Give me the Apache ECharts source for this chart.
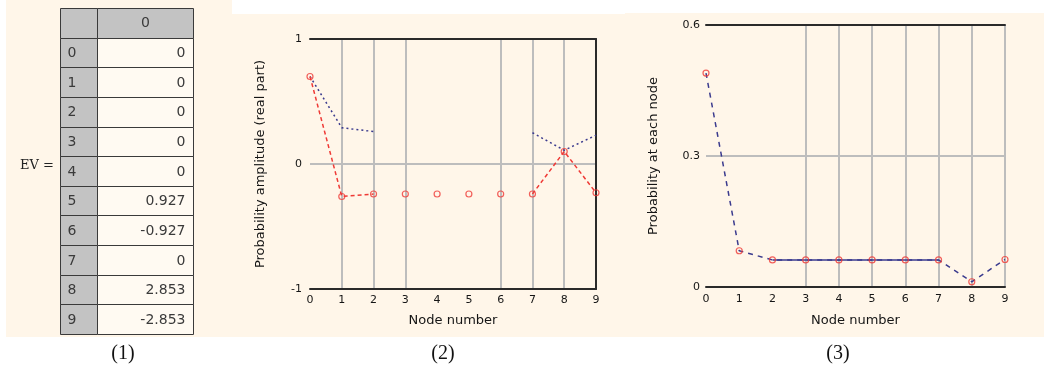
<!DOCTYPE html>
<html>
<head>
<meta charset="utf-8">
<script src="https://cdn.jsdelivr.net/npm/echarts@6/dist/echarts.min.js"></script>
<style>
  html, body { margin: 0; padding: 0; background: #ffffff; }
  #chart { width: 1044px; height: 375px; }
</style>
</head>
<body>
<div id="chart"></div>
<script>
// Eigenvalue table (1)
const evHeader = '0';
const evRows = ['0', '1', '2', '3', '4', '5', '6', '7', '8', '9'];
const evValues = [0, 0, 0, 0, 0, 0.927, -0.927, 0, 2.853, -2.853];

// Node axis shared by plots (2) and (3)
const nodes = ['0', '1', '2', '3', '4', '5', '6', '7', '8', '9'];

// (2) amplitudes per node; null = not drawn
const ampBlue = [0.70, 0.29, 0.26, null, null, null, null, 0.25, 0.11, 0.23];
const ampRed = [0.70, -0.26, -0.24, -0.24, -0.24, -0.24, -0.24, -0.24, 0.10, -0.23];
// nodes where the red curve is joined by a line
const ampRedJoined = [0, 1, 2, 7, 8, 9];

// (3) probability per node
const prob = [0.49, 0.083, 0.062, 0.062, 0.062, 0.062, 0.062, 0.062, 0.012, 0.063];
// nodes joined by the solid segment
const probSolid = [2, 3, 4, 5, 6, 7];

const yAmpTicks = [-1, 0, 1];
const yProbTicks = [0, 0.3, 0.6];

const cream = '#fff6e9';
const navy = '#3b3b8e';
const red = '#ef3a36';
const grey = '#bdbdbd';
const dark = '#2a2a2a';
const tickFont = { fontFamily: 'DejaVu Sans', fontSize: 11, color: '#151515' };
const nameFont = { fontFamily: 'DejaVu Sans', fontSize: 13, color: '#151515' };

const chart = echarts.init(document.getElementById('chart'), null, { renderer: 'canvas' });

const tableRowCats = ['h'].concat(evRows);

function cellRect(pt, size) {
  return {
    x: Math.round(pt[0] - size[0] / 2) + 0.5,
    y: Math.round(pt[1] - size[1] / 2) + 0.5,
    width: Math.round(size[0]),
    height: Math.round(size[1])
  };
}

// one table column drawn as custom cells on a category row axis
function tableColumn(gridIndex, kind) {
  return {
    type: 'custom',
    xAxisIndex: gridIndex,
    yAxisIndex: gridIndex,
    silent: true,
    data: tableRowCats.map((r, i) => [0, i]),
    renderItem: function (params, api) {
      const row = api.value(1);
      const pt = api.coord([0, row]);
      const size = api.size([1, 1]);
      const r = cellRect(pt, size);
      const isHeader = row === 0;
      const fill = (kind === 'idx' || isHeader) ? '#c3c3c3' : '#fffaf2';
      const label = isHeader
        ? (kind === 'idx' ? '' : evHeader)
        : (kind === 'idx' ? evRows[row - 1] : String(evValues[row - 1]));
      let tx, align;
      if (kind === 'idx') { tx = r.x + 7; align = 'left'; }
      else if (isHeader) { tx = r.x + r.width / 2; align = 'center'; }
      else { tx = r.x + r.width - 8; align = 'right'; }
      return {
        type: 'group',
        children: [
          { type: 'rect', shape: r, style: { fill: fill, stroke: '#3a3a3a', lineWidth: 1 } },
          { type: 'text', style: { text: label, x: tx, y: pt[1] + 1, align: align, verticalAlign: 'middle',
            fontFamily: 'DejaVu Sans', fontSize: 14, fill: '#3a3a3a' } }
        ]
      };
    }
  };
}

function hiddenCat(gridIndex) {
  return { type: 'category', gridIndex: gridIndex, data: ['c'], show: false };
}
function hiddenRows(gridIndex) {
  return { type: 'category', gridIndex: gridIndex, data: tableRowCats, inverse: true, show: false };
}

function nodeAxisBottom(gridIndex, splitIdx, nameGap, labelMargin) {
  return {
    type: 'category', gridIndex: gridIndex, data: nodes, boundaryGap: false, position: 'bottom',
    axisLine: { show: true, onZero: false, lineStyle: { color: dark, width: 2 } },
    axisTick: { show: false },
    axisLabel: Object.assign({ margin: labelMargin, interval: 0 }, tickFont),
    splitLine: { show: true, interval: (i) => splitIdx.indexOf(i) >= 0, lineStyle: { color: grey, width: 2 } },
    name: 'Node number', nameLocation: 'middle', nameGap: nameGap,
    nameTextStyle: nameFont
  };
}
function nodeAxisTop(gridIndex) {
  return {
    type: 'category', gridIndex: gridIndex, data: nodes, boundaryGap: false, position: 'top',
    axisLine: { show: true, onZero: false, lineStyle: { color: dark, width: 2 } },
    axisTick: { show: false }, axisLabel: { show: false }, splitLine: { show: false }
  };
}

function openMarkers(xi, yi, values) {
  return {
    type: 'scatter', xAxisIndex: xi, yAxisIndex: yi, data: values,
    symbol: 'circle', symbolSize: 6,
    itemStyle: { color: 'rgba(255,255,255,0)', borderColor: red, borderWidth: 1.2 }, z: 5
  };
}

const serifLabel = (t, x) => ({
  type: 'text', silent: true,
  style: { text: t, x: x, y: 354, align: 'center', verticalAlign: 'middle',
    fontFamily: 'Liberation Serif', fontSize: 20, fill: '#111' }
});

const option = {
  animation: false,
  backgroundColor: '#ffffff',
  graphic: [
    { type: 'rect', z: -10, silent: true, shape: { x: 6, y: 0, width: 226, height: 337 }, style: { fill: cream } },
    { type: 'rect', z: -10, silent: true, shape: { x: 232, y: 14, width: 393, height: 323 }, style: { fill: cream } },
    { type: 'rect', z: -10, silent: true, shape: { x: 625, y: 13, width: 419, height: 324 }, style: { fill: cream } },
    { type: 'text', silent: true, style: { text: 'EV =', x: 37, y: 166, align: 'center', verticalAlign: 'middle',
      fontFamily: 'DejaVu Serif', fontSize: 13, fill: '#222' } },
    serifLabel('(1)', 123),
    serifLabel('(2)', 443),
    serifLabel('(3)', 838)
  ],
  grid: [
    { left: 60, top: 8, width: 37, height: 326 },
    { left: 97, top: 8, width: 96, height: 326 },
    { left: 310, top: 39, width: 286, height: 250 },
    { left: 706, top: 25, width: 299, height: 262 }
  ],
  xAxis: [
    hiddenCat(0),
    hiddenCat(1),
    nodeAxisBottom(2, [1, 2, 3, 6, 7, 8], 25, 6),
    nodeAxisTop(2),
    nodeAxisBottom(3, [3, 4, 5, 6, 7, 8, 9], 27, 7),
    nodeAxisTop(3)
  ],
  yAxis: [
    hiddenRows(0),
    hiddenRows(1),
    {
      type: 'value', gridIndex: 2, min: yAmpTicks[0], max: yAmpTicks[2], interval: 1,
      axisLine: { show: false }, axisTick: { show: false },
      axisLabel: Object.assign({ margin: 8, formatter: (v) => yAmpTicks.indexOf(v) >= 0 ? String(v) : '' }, tickFont),
      splitLine: { show: true, lineStyle: { color: grey, width: 2 } },
      name: 'Probability amplitude (real part)', nameLocation: 'middle', nameRotate: 90, nameGap: 43,
      nameTextStyle: nameFont
    },
    {
      type: 'value', gridIndex: 2, position: 'right', min: -1, max: 1, interval: 1,
      axisLine: { show: true, onZero: false, lineStyle: { color: dark, width: 2 } },
      axisTick: { show: false }, axisLabel: { show: false }, splitLine: { show: false }
    },
    {
      type: 'value', gridIndex: 3, min: yProbTicks[0], max: yProbTicks[2], interval: 0.3,
      axisLine: { show: false }, axisTick: { show: false },
      axisLabel: Object.assign({ margin: 6, formatter: (v) => String(Math.round(v * 10) / 10) }, tickFont),
      splitLine: { show: true, lineStyle: { color: grey, width: 2 } },
      name: 'Probability at each node', nameLocation: 'middle', nameRotate: 90, nameGap: 46,
      nameTextStyle: nameFont
    }
  ],
  series: [
    tableColumn(0, 'idx'),
    tableColumn(1, 'val'),
    // (2) blue amplitude, dotted
    {
      type: 'line', xAxisIndex: 2, yAxisIndex: 2, data: ampBlue, connectNulls: false,
      symbol: 'none', lineStyle: { color: navy, width: 1.5, type: [2, 3] }, z: 3
    },
    // (2) red amplitude, dashed where joined
    {
      type: 'line', xAxisIndex: 2, yAxisIndex: 2, connectNulls: false,
      data: ampRed.map((v, i) => ampRedJoined.indexOf(i) >= 0 ? v : null),
      symbol: 'none', lineStyle: { color: red, width: 1.5, type: [4, 3] }, z: 4
    },
    openMarkers(2, 2, ampRed),
    // (3) probability, dashed
    {
      type: 'line', xAxisIndex: 4, yAxisIndex: 4, data: prob,
      symbol: 'none', lineStyle: { color: navy, width: 1.5, type: [5, 5] }, z: 3
    },
    // (3) solid run over the plateau
    {
      type: 'line', xAxisIndex: 4, yAxisIndex: 4, connectNulls: false,
      data: prob.map((v, i) => probSolid.indexOf(i) >= 0 ? v : null),
      symbol: 'none', lineStyle: { color: navy, width: 1.5, type: 'solid' }, z: 4
    },
    openMarkers(4, 4, prob)
  ]
};

chart.setOption(option);
</script>
</body>
</html>
